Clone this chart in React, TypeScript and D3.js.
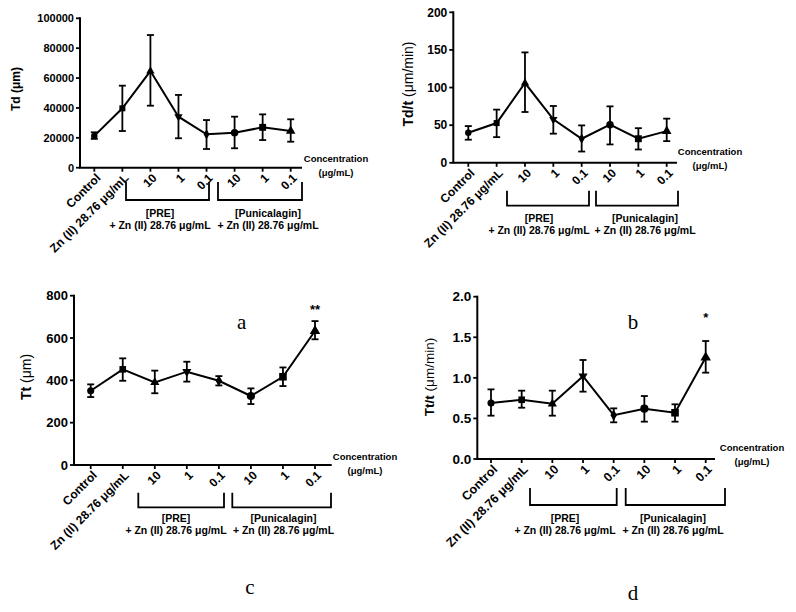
import React from "react";
import * as d3 from "d3";

// ---------- DATA ----------
const categories = ["Control", "Zn (II) 28.76 μg/mL", "10", "1", "0.1", "10", "1", "0.1"];
const markerShapes = ["circle", "square", "triangle", "triangleDown", "diamond", "circle", "square", "triangle"];
const groupLabelLine1 = ["[PRE]", "[Punicalagin]"];
const groupLabelLine2 = "+ Zn (II) 28.76 μg/mL";

const tdMean = [21300, 39750, 64700, 34150, 22350, 23450, 27000, 24550];
const tdLow = [19300, 24550, 41500, 19700, 12500, 13000, 18500, 17400];
const tdHigh = [23700, 54900, 88800, 48700, 31900, 34150, 35700, 32400];
const tdTicks = [0, 20000, 40000, 60000, 80000, 100000];

const tdtMean = [40, 52.8, 106, 57.7, 32, 50.7, 32, 42.1];
const tdtLow = [30.7, 34.1, 67.5, 38.7, 15, 24.4, 17.7, 28.8];
const tdtHigh = [48.8, 70.7, 146.7, 75.5, 49.7, 75, 46, 58.7];
const tdtTicks = [0, 50, 100, 150, 200];

const ttMean = [351, 452, 390, 441, 398, 326, 417, 633];
const ttLow = [321, 398, 339, 394, 376, 288, 373, 594];
const ttHigh = [381, 504, 446, 488, 420, 362, 461, 680];
const ttTicks = [0, 200, 400, 600, 800];

const tttMean = [0.69, 0.73, 0.68, 1.02, 0.54, 0.62, 0.57, 1.25];
const tttLow = [0.534, 0.632, 0.534, 0.83, 0.452, 0.46, 0.46, 1.064];
const tttHigh = [0.858, 0.842, 0.842, 1.22, 0.624, 0.776, 0.674, 1.454];
const tttTicks = [0, 0.5, 1.0, 1.5, 2.0];

// ---------- LAYOUT ----------
const FONT = "Liberation Sans, Arial, Helvetica, sans-serif";

type PanelCfg = {
  mean: number[]; low: number[]; high: number[]; ticks: number[]; fmt: (v: number) => string;
  left: number; right: number; top: number; bottom: number; xFirst: number; xLast: number;
  yLabelBold: string; yLabelRest: string; yLabelX: number; yLabelY: number; yLabelSize: number;
  tickSize: number; catSize: number;
  brackets: [number, number][]; bTop: number; bBottom: number; gY1: number; gY2: number; gCenters: number[];
  concX: number; concY: number; mScale: number;
};

const panels: PanelCfg[] = [
  {
    mean: tdMean, low: tdLow, high: tdHigh, ticks: tdTicks, fmt: d3.format("d"),
    left: 80, right: 302, top: 18.3, bottom: 167.7, xFirst: 94.3, xLast: 290.7,
    yLabelBold: "Td (μm)", yLabelRest: "", yLabelX: 16, yLabelY: 89, yLabelSize: 12,
    tickSize: 11, catSize: 12,
    brackets: [[126, 209], [218, 302]], bTop: 182, bBottom: 200, gY1: 213, gY2: 225, gCenters: [160, 268],
    concX: 336, concY: 159, mScale: 1,
  },
  {
    mean: tdtMean, low: tdtLow, high: tdtHigh, ticks: tdtTicks, fmt: d3.format("d"),
    left: 453.3, right: 677, top: 12.3, bottom: 162.8, xFirst: 468.3, xLast: 666.7,
    yLabelBold: "Td/t", yLabelRest: " (μm/min)", yLabelX: 408, yLabelY: 84, yLabelSize: 14,
    tickSize: 12, catSize: 12,
    brackets: [[507, 589], [596, 678]], bTop: 190.7, bBottom: 205.7, gY1: 218, gY2: 230, gCenters: [539, 645],
    concX: 710, concY: 152, mScale: 1,
  },
  {
    mean: ttMean, low: ttLow, high: ttHigh, ticks: ttTicks, fmt: d3.format("d"),
    left: 74, right: 331.7, top: 295.7, bottom: 465, xFirst: 90.7, xLast: 315,
    yLabelBold: "Tt", yLabelRest: " (μm)", yLabelX: 26, yLabelY: 377, yLabelSize: 14,
    tickSize: 13, catSize: 12,
    brackets: [[138.3, 224], [232.3, 331]], bTop: 492.7, bBottom: 507.3, gY1: 518, gY2: 530, gCenters: [176, 283.5],
    concX: 365, concY: 456.7, mScale: 1.1,
  },
  {
    mean: tttMean, low: tttLow, high: tttHigh, ticks: tttTicks, fmt: d3.format(".1f"),
    left: 477.3, right: 715, top: 296.7, bottom: 459, xFirst: 491, xLast: 705.7,
    yLabelBold: "Tt/t", yLabelRest: " (μm/min)", yLabelX: 429, yLabelY: 377, yLabelSize: 13.5,
    tickSize: 13.5, catSize: 12.5,
    brackets: [[530, 616.7], [625.7, 725]], bTop: 488, bBottom: 505, gY1: 518, gY2: 530, gCenters: [565, 673],
    concX: 752, concY: 448, mScale: 1.1,
  },
];

const annotations = [
  { text: "a", x: 241.7, y: 322, size: 21, family: "Liberation Serif, Times New Roman, serif", weight: "normal" },
  { text: "c", x: 250, y: 587, size: 21, family: "Liberation Serif, Times New Roman, serif", weight: "normal" },
  { text: "b", x: 633, y: 322, size: 21, family: "Liberation Serif, Times New Roman, serif", weight: "normal" },
  { text: "d", x: 633, y: 593, size: 21, family: "Liberation Serif, Times New Roman, serif", weight: "normal" },
];
const stars = [
  { panel: 2, index: 7, text: "**", y: 309 },
  { panel: 3, index: 7, text: "*", y: 317 },
];

function markerPath(shape: string, s: number): { d: string; rot: number } {
  const area = 30 * s * s;
  switch (shape) {
    case "circle": return { d: d3.symbol(d3.symbolCircle, area * 1.1)()!, rot: 0 };
    case "square": return { d: d3.symbol(d3.symbolSquare, area * 1.2)()!, rot: 0 };
    case "triangle": return { d: d3.symbol(d3.symbolTriangle, area)()!, rot: 0 };
    case "triangleDown": return { d: d3.symbol(d3.symbolTriangle, area)()!, rot: 180 };
    default: return { d: d3.symbol(d3.symbolDiamond, area)()!, rot: 0 };
  }
}

function Panel({ cfg, pi }: { cfg: PanelCfg; pi: number }) {
  const x = d3.scalePoint<number>().domain(categories.map((_, i) => i)).range([cfg.xFirst, cfg.xLast]);
  const y = d3.scaleLinear().domain([cfg.ticks[0], cfg.ticks[cfg.ticks.length - 1]]).range([cfg.bottom, cfg.top]);
  const line = d3.line<number>().x((_, i) => x(i)!).y((v) => y(v));
  const cap = 3.5;
  return (
    <g>
      {/* y axis */}
      <line x1={cfg.left} x2={cfg.left} y1={cfg.top - 1} y2={cfg.bottom} stroke="#000" strokeWidth={2} />
      {cfg.ticks.map((t) => (
        <g key={t}>
          <line x1={cfg.left - 4} x2={cfg.left} y1={y(t)} y2={y(t)} stroke="#000" strokeWidth={1.8} />
          <text x={cfg.left - 6} y={y(t)} dy="0.35em" textAnchor="end" fontFamily={FONT} fontWeight="bold" fontSize={cfg.tickSize}>
            {cfg.fmt(t)}
          </text>
        </g>
      ))}
      {/* x axis */}
      <line x1={cfg.left - 1} x2={cfg.right} y1={cfg.bottom} y2={cfg.bottom} stroke="#000" strokeWidth={2} />
      {categories.map((c, i) => (
        <g key={i}>
          <line x1={x(i)} x2={x(i)} y1={cfg.bottom} y2={cfg.bottom + 4} stroke="#000" strokeWidth={1.8} />
          <text
            transform={`translate(${x(i)! + 4},${cfg.bottom + 8}) rotate(-45)`}
            textAnchor="end" dy="0.35em" fontFamily={FONT} fontWeight="bold" fontSize={cfg.catSize}
          >
            {c}
          </text>
        </g>
      ))}
      {/* y label */}
      <text transform={`translate(${cfg.yLabelX},${cfg.yLabelY}) rotate(-90)`} textAnchor="middle" dy="0.35em"
        fontFamily={FONT} fontSize={cfg.yLabelSize}>
        <tspan fontWeight="bold">{cfg.yLabelBold}</tspan>
        {cfg.yLabelRest ? <tspan>{cfg.yLabelRest}</tspan> : null}
      </text>
      {/* concentration label */}
      <text x={cfg.concX} y={cfg.concY} dy="0.35em" textAnchor="middle" fontFamily={FONT} fontWeight="bold" fontSize={9.5}>Concentration</text>
      <text x={cfg.concX} y={cfg.concY + 13.5} dy="0.35em" textAnchor="middle" fontFamily={FONT} fontWeight="bold" fontSize={9.5}>(μg/mL)</text>
      {/* brackets */}
      {cfg.brackets.map(([b0, b1], k) => (
        <g key={k}>
          <path d={`M${b0},${cfg.bTop}V${cfg.bBottom}H${b1}V${cfg.bTop}`} fill="none" stroke="#000" strokeWidth={1.8} />
          <text x={cfg.gCenters[k]} y={cfg.gY1} dy="0.35em" textAnchor="middle" fontFamily={FONT} fontWeight="bold" fontSize={10.5}>{groupLabelLine1[k]}</text>
          <text x={cfg.gCenters[k]} y={cfg.gY2} dy="0.35em" textAnchor="middle" fontFamily={FONT} fontWeight="bold" fontSize={10.5}>{groupLabelLine2}</text>
        </g>
      ))}
      {/* error bars */}
      {cfg.mean.map((_, i) => (
        <g key={"e" + i} stroke="#000" strokeWidth={1.8}>
          <line x1={x(i)} x2={x(i)} y1={y(cfg.low[i])} y2={y(cfg.high[i])} />
          <line x1={x(i)! - cap} x2={x(i)! + cap} y1={y(cfg.low[i])} y2={y(cfg.low[i])} />
          <line x1={x(i)! - cap} x2={x(i)! + cap} y1={y(cfg.high[i])} y2={y(cfg.high[i])} />
        </g>
      ))}
      {/* line */}
      <path d={line(cfg.mean)!} fill="none" stroke="#000" strokeWidth={2} />
      {/* markers */}
      {cfg.mean.map((v, i) => {
        const m = markerPath(markerShapes[i], cfg.mScale * (i >= 5 ? 1.15 : 1));
        return <path key={"m" + i} d={m.d} transform={`translate(${x(i)},${y(v)}) rotate(${m.rot})`} fill="#000" />;
      })}
      {stars.filter((s) => s.panel === pi).map((s, k) => (
        <text key={"s" + k} x={x(s.index)} y={s.y} dy="0.35em" textAnchor="middle" fontFamily={FONT} fontWeight="bold" fontSize={13}>{s.text}</text>
      ))}
    </g>
  );
}

export default function App() {
  return (
    <div style={{ position: "fixed", left: 0, top: 0, width: 796, height: 612, background: "#fff" }}>
      <svg width={796} height={612} viewBox="0 0 796 612">
        <rect width={796} height={612} fill="#fff" />
        {panels.map((p, i) => <Panel key={i} cfg={p} pi={i} />)}
        {annotations.map((a, i) => (
          <text key={i} x={a.x} y={a.y} dy="0.35em" textAnchor="middle" fontFamily={a.family} fontWeight={a.weight} fontSize={a.size}>{a.text}</text>
        ))}
      </svg>
    </div>
  );
}
